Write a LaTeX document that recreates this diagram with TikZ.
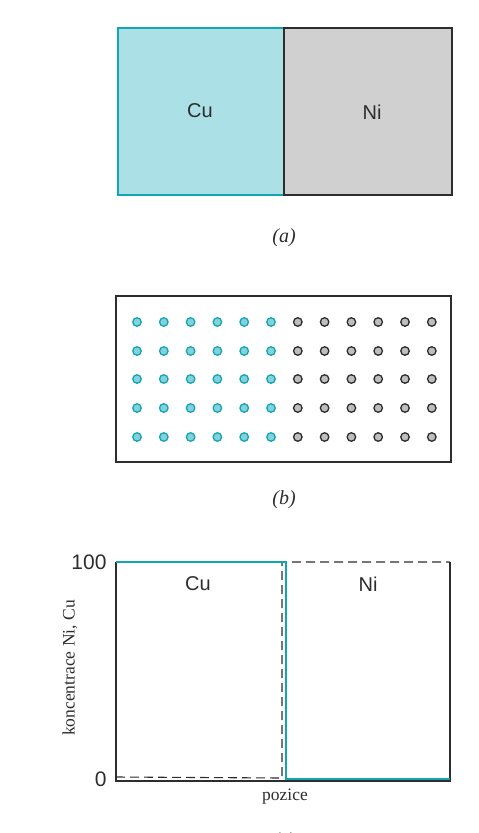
\documentclass[tikz,border=0pt]{standalone}
\usepackage{fontspec}
\setmainfont{Liberation Serif}
\setsansfont{Liberation Sans}
\definecolor{culine}{RGB}{20,165,180}
\definecolor{cufill}{RGB}{170,224,230}
\definecolor{nifill}{RGB}{208,208,208}
\definecolor{dark}{RGB}{45,45,45}
\definecolor{cudot}{RGB}{130,210,220}
\definecolor{nidot}{RGB}{190,190,190}
\tikzset{
  lbl/.style={font=\sffamily\fontsize{20}{20}\selectfont, text=dark},
  figcap/.style={font=\rmfamily\itshape\fontsize{20}{20}\selectfont, text=dark},
  cuatom/.style={circle, draw=culine, fill=cudot, line width=1.3pt, minimum size=8.5pt, inner sep=0pt},
  niatom/.style={circle, draw=dark, fill=nidot, line width=1.3pt, minimum size=8.5pt, inner sep=0pt},
  axisline/.style={dark, line width=1.2pt},
  cucurve/.style={culine, line width=1.3pt},
  nicurve/.style={dark, line width=1.1pt, dash pattern=on 9pt off 5pt},
  serlbl/.style={font=\rmfamily\fontsize{17.5}{17.5}\selectfont, text=dark},
}
\begin{document}
\begin{tikzpicture}[x=1pt,y=-1pt]
\useasboundingbox (0,0) rectangle (479,833);
% (a)
\fill[cufill] (118,28) rectangle (284,195);
\fill[nifill] (284,28) rectangle (452,195);
\draw[culine, line width=1.2pt] (284,28) -- (118,28) -- (118,195) -- (284,195);
\draw[dark, line width=1.2pt] (284,28) -- (452,28) -- (452,195) -- (284,195) -- cycle;
\node[lbl] (cua) at (200,111) {Cu};
\node[lbl] (nia) at (372,112) {Ni};
\node[figcap] (capa) at (284,238) {(a)};
% (b)
\draw[dark, line width=1.3pt] (116,296) rectangle (451,462);
\foreach \r [count=\ri] in {322,351,379,408,437}{
  \foreach \c in {0,...,5}{
    \node[cuatom] (cu-\ri-\c) at (137+26.8*\c,\r) {};
  }
  \foreach \c in {6,...,11}{
    \node[niatom] (ni-\ri-\c) at (137+26.8*\c,\r) {};
  }
}
\node[figcap] (capb) at (284,500) {(b)};
% (c)
\coordinate (tl) at (116,562);
\coordinate (bl) at (116,781);
\coordinate (br) at (450,781);
\coordinate (tr) at (450,562);
\draw[axisline] (tl) -- (bl) -- (br) -- (tr);
\draw[nicurve] (116,777) -- (282,778) -- (282,562) -- (450,562);
\draw[cucurve] (116,562) -- (286,562) -- (286,779) -- (450,779);
\node[font=\sffamily\fontsize{21}{21}\selectfont, text=dark, anchor=east] (y100) at (110,562) {100};
\node[font=\sffamily\fontsize{21}{21}\selectfont, text=dark, anchor=east] (y0) at (110,779) {0};
\node[lbl] (cuc) at (198,584) {Cu};
\node[lbl] (nic) at (368,584) {Ni};
\node[serlbl] (xl) at (285,797) {pozice};
\node[serlbl, rotate=90] (yl) at (70,668) {koncentrace Ni, Cu};
\node[figcap] (capc) at (284,842) {(c)};
\end{tikzpicture}
\end{document}
